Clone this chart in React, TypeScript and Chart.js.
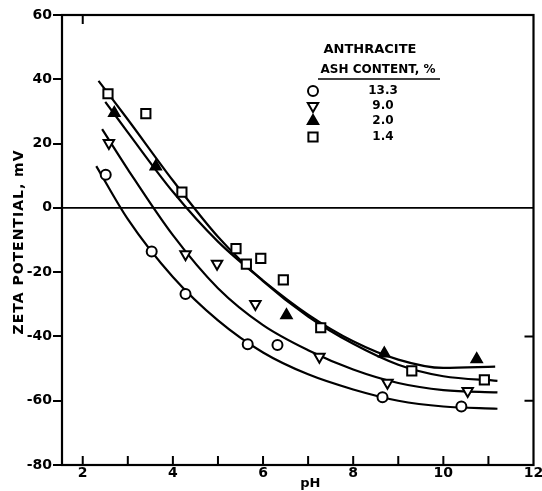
import React, { useEffect, useRef } from 'react';
import { Chart, registerables } from 'chart.js';

Chart.register(...registerables);

// ---------- data ----------
const legendTitle = 'ANTHRACITE';
const legendSubtitle = 'ASH CONTENT, %';
const ashContents = ['13.3', '9.0', '2.0', '1.4'];
const yTitle = 'ZETA POTENTIAL, mV';
const xTitle = 'pH';

const xTickValues = [2, 3, 4, 5, 6, 7, 8, 9, 10, 11, 12];
const xTickLabels = ['2', '', '4', '', '6', '', '8', '', '10', '', '12'];
const yTickValues = [-80, -60, -40, -20, 0, 20, 40, 60];

// measured points
const circlePH = [2.51, 3.53, 4.28, 5.66, 6.32, 8.65, 10.4];
const circleZeta = [10.3, -13.6, -26.8, -42.4, -42.7, -58.9, -61.8];
const trianglePH = [2.58, 4.28, 4.98, 5.83, 7.25, 8.76, 10.54];
const triangleZeta = [20.2, -14.4, -17.4, -29.9, -46.3, -54.4, -57.0];
const filledPH = [2.7, 3.62, 6.52, 8.69, 10.74];
const filledZeta = [29.5, 12.9, -33.4, -45.3, -47.1];
const squarePH = [2.56, 3.4, 4.2, 5.4, 5.63, 5.95, 6.45, 7.28, 9.3, 10.91];
const squareZeta = [35.5, 29.3, 4.9, -12.7, -17.5, -15.7, -22.4, -37.3, -50.7, -53.5];

// drawn curves
const circleCurvePH = [2.3, 3.0, 4.0, 5.0, 6.0, 7.0, 8.0, 9.0, 10.0, 11.2];
const circleCurveZeta = [13, -3.5, -21.5, -35, -45, -51.8, -56.5, -60, -61.8, -62.5];
const triangleCurvePH = [2.43, 3.0, 4.0, 5.0, 6.0, 7.0, 8.0, 9.0, 10.0, 11.2];
const triangleCurveZeta = [24.5, 12, -8.5, -25, -36.5, -44.3, -50.3, -54.5, -56.7, -57.4];
const filledCurvePH = [2.5, 3.0, 4.0, 5.0, 6.0, 7.0, 8.0, 9.0, 10.0, 11.15];
const filledCurveZeta = [33, 23.5, 5, -10.5, -22.6, -33.2, -41.5, -47.2, -49.8, -49.4];
const squareCurvePH = [2.35, 3.0, 4.0, 5.0, 6.0, 7.0, 8.0, 9.0, 10.0, 11.2];
const squareCurveZeta = [39.5, 27.5, 8.5, -9, -22.8, -33.8, -42.3, -48.8, -52.4, -53.8];

const zip = (xs: number[], ys: number[]) => xs.map((x, i) => ({ x, y: ys[i] }));

const FONT = '"DejaVu Sans", sans-serif';

type MarkerStyle = { style: string; rotation: number; radius: number; fill: string };
const markerStyles: MarkerStyle[] = [
  { style: 'circle', rotation: 0, radius: 5, fill: '#fff' },
  { style: 'triangle', rotation: 180, radius: 6, fill: '#fff' },
  { style: 'triangle', rotation: 0, radius: 6, fill: '#000' },
  { style: 'rect', rotation: 0, radius: 6.5, fill: '#fff' },
];

function drawMarker(ctx: CanvasRenderingContext2D, m: MarkerStyle, x: number, y: number) {
  ctx.save();
  ctx.lineWidth = 2;
  ctx.strokeStyle = '#000';
  ctx.fillStyle = m.fill;
  ctx.beginPath();
  if (m.style === 'circle') {
    ctx.arc(x, y, m.radius, 0, Math.PI * 2);
  } else if (m.style === 'triangle') {
    const r = m.radius;
    const rot = (m.rotation * Math.PI) / 180;
    for (let k = 0; k < 3; k++) {
      const ang = rot - Math.PI / 2 + (k * 2 * Math.PI) / 3;
      const px = x + Math.cos(ang) * r;
      const py = y + Math.sin(ang) * r;
      if (k === 0) ctx.moveTo(px, py);
      else ctx.lineTo(px, py);
    }
    ctx.closePath();
  } else {
    const s = Math.SQRT1_2 * m.radius;
    ctx.rect(x - s, y - s, 2 * s, 2 * s);
  }
  ctx.fill();
  ctx.stroke();
  ctx.restore();
}

const framePlugin = {
  id: 'frame',
  beforeDatasetsDraw(chart: any) {
    const { ctx, chartArea: a, scales } = chart;
    const y0 = scales.y.getPixelForValue(0);
    ctx.save();
    ctx.strokeStyle = '#000';
    ctx.lineWidth = 1.6;
    ctx.beginPath();
    ctx.moveTo(a.left, y0);
    ctx.lineTo(a.right, y0);
    ctx.stroke();
    ctx.restore();
  },
  afterDraw(chart: any) {
    const { ctx, chartArea: a, scales } = chart;
    const xs = scales.x;
    const ys = scales.y;
    ctx.save();
    ctx.strokeStyle = '#000';
    ctx.fillStyle = '#000';
    ctx.lineWidth = 2.2;
    ctx.strokeRect(a.left, a.top, a.right - a.left, a.bottom - a.top);

    // inward ticks on the x axis
    ctx.lineWidth = 2;
    ctx.beginPath();
    xTickValues.slice(0, -1).forEach((v) => {
      const px = xs.getPixelForValue(v);
      ctx.moveTo(px, a.bottom);
      ctx.lineTo(px, a.bottom - 9);
    });
    // top tick at pH 2
    const p2 = xs.getPixelForValue(xTickValues[0]);
    ctx.moveTo(p2, a.top);
    ctx.lineTo(p2, a.top + 9);
    // right-side ticks
    [-40, -60].forEach((v) => {
      const py = ys.getPixelForValue(v);
      ctx.moveTo(a.right, py);
      ctx.lineTo(a.right - 9, py);
    });
    ctx.stroke();

    // x tick labels
    ctx.font = `bold 14px ${FONT}`;
    ctx.textAlign = 'center';
    ctx.textBaseline = 'middle';
    xTickValues.forEach((v, i) => {
      if (!xTickLabels[i]) return;
      ctx.fillText(xTickLabels[i], xs.getPixelForValue(v), 473);
    });

    // x title
    ctx.font = `bold 13px ${FONT}`;
    ctx.fillText(xTitle, xs.getPixelForValue(7.05), 484);

    // y title
    ctx.save();
    ctx.translate(19, 242);
    ctx.rotate(-Math.PI / 2);
    (ctx as any).letterSpacing = '1px';
    ctx.font = `bold 14px ${FONT}`;
    ctx.fillText(yTitle, 0, 0);
    ctx.restore();

    // legend
    ctx.font = `bold 13px ${FONT}`;
    ctx.fillText(legendTitle, 370, 50);
    ctx.font = `bold 12px ${FONT}`;
    ctx.fillText(legendSubtitle, 378, 70);
    ctx.lineWidth = 1.5;
    ctx.beginPath();
    ctx.moveTo(318, 79);
    ctx.lineTo(440, 79);
    ctx.stroke();
    const rows = [91, 106, 121, 137];
    ctx.font = `bold 12px ${FONT}`;
    ashContents.forEach((label, i) => {
      drawMarker(ctx, markerStyles[i], 313, rows[i]);
      ctx.fillStyle = '#000';
      ctx.fillText(label, 383, rows[i]);
    });
    ctx.restore();
  },
};

export default function App() {
  const ref = useRef<HTMLCanvasElement>(null);

  useEffect(() => {
    if (!ref.current) return;
    const markerSeries = [
      zip(circlePH, circleZeta),
      zip(trianglePH, triangleZeta),
      zip(filledPH, filledZeta),
      zip(squarePH, squareZeta),
    ];
    const curveSeries = [
      zip(circleCurvePH, circleCurveZeta),
      zip(triangleCurvePH, triangleCurveZeta),
      zip(filledCurvePH, filledCurveZeta),
      zip(squareCurvePH, squareCurveZeta),
    ];
    const markerDatasets = markerSeries.map((data, i) => ({
      label: ashContents[i],
      data,
      showLine: false,
      pointStyle: markerStyles[i].style,
      rotation: markerStyles[i].rotation,
      pointRadius: markerStyles[i].radius,
      pointBackgroundColor: markerStyles[i].fill,
      pointBorderColor: '#000',
      pointBorderWidth: 2,
    }));
    const curveDatasets = curveSeries.map((data, i) => ({
      label: ashContents[i] + ' fit',
      data,
      showLine: true,
      borderColor: '#000',
      borderWidth: 2.2,
      pointRadius: 0,
      cubicInterpolationMode: 'monotone' as const,
      fill: false,
    }));

    const chart = new Chart(ref.current, {
      type: 'scatter',
      data: { datasets: [...markerDatasets, ...curveDatasets] as any },
      plugins: [framePlugin],
      options: {
        animation: false,
        responsive: false,
        devicePixelRatio: 1,
        layout: { padding: { top: 15, right: 5, left: 0, bottom: 0 } },
        plugins: { legend: { display: false }, tooltip: { enabled: false } },
        scales: {
          x: {
            type: 'linear',
            min: 1.54,
            max: 12,
            border: { display: false },
            grid: { display: false },
            ticks: { display: false },
            afterFit: (s: any) => {
              s.height = 26;
            },
          },
          y: {
            type: 'linear',
            min: -80,
            max: 60,
            border: { display: false },
            grid: {
              drawOnChartArea: false,
              drawTicks: true,
              tickLength: 9,
              color: '#000',
              lineWidth: 2,
            },
            afterBuildTicks: (s: any) => {
              s.ticks = yTickValues.map((v) => ({ value: v }));
            },
            ticks: {
              padding: 1,
              color: '#000',
              font: { family: FONT, size: 14, weight: 'bold' },
            },
            afterFit: (s: any) => {
              s.width = 62;
            },
          },
        },
      },
    });
    return () => chart.destroy();
  }, []);

  return (
    <div style={{ position: 'absolute', left: 0, top: 0, width: 542, height: 491, background: '#fff' }}>
      <canvas ref={ref} width={542} height={491} style={{ display: 'block' }} />
    </div>
  );
}
